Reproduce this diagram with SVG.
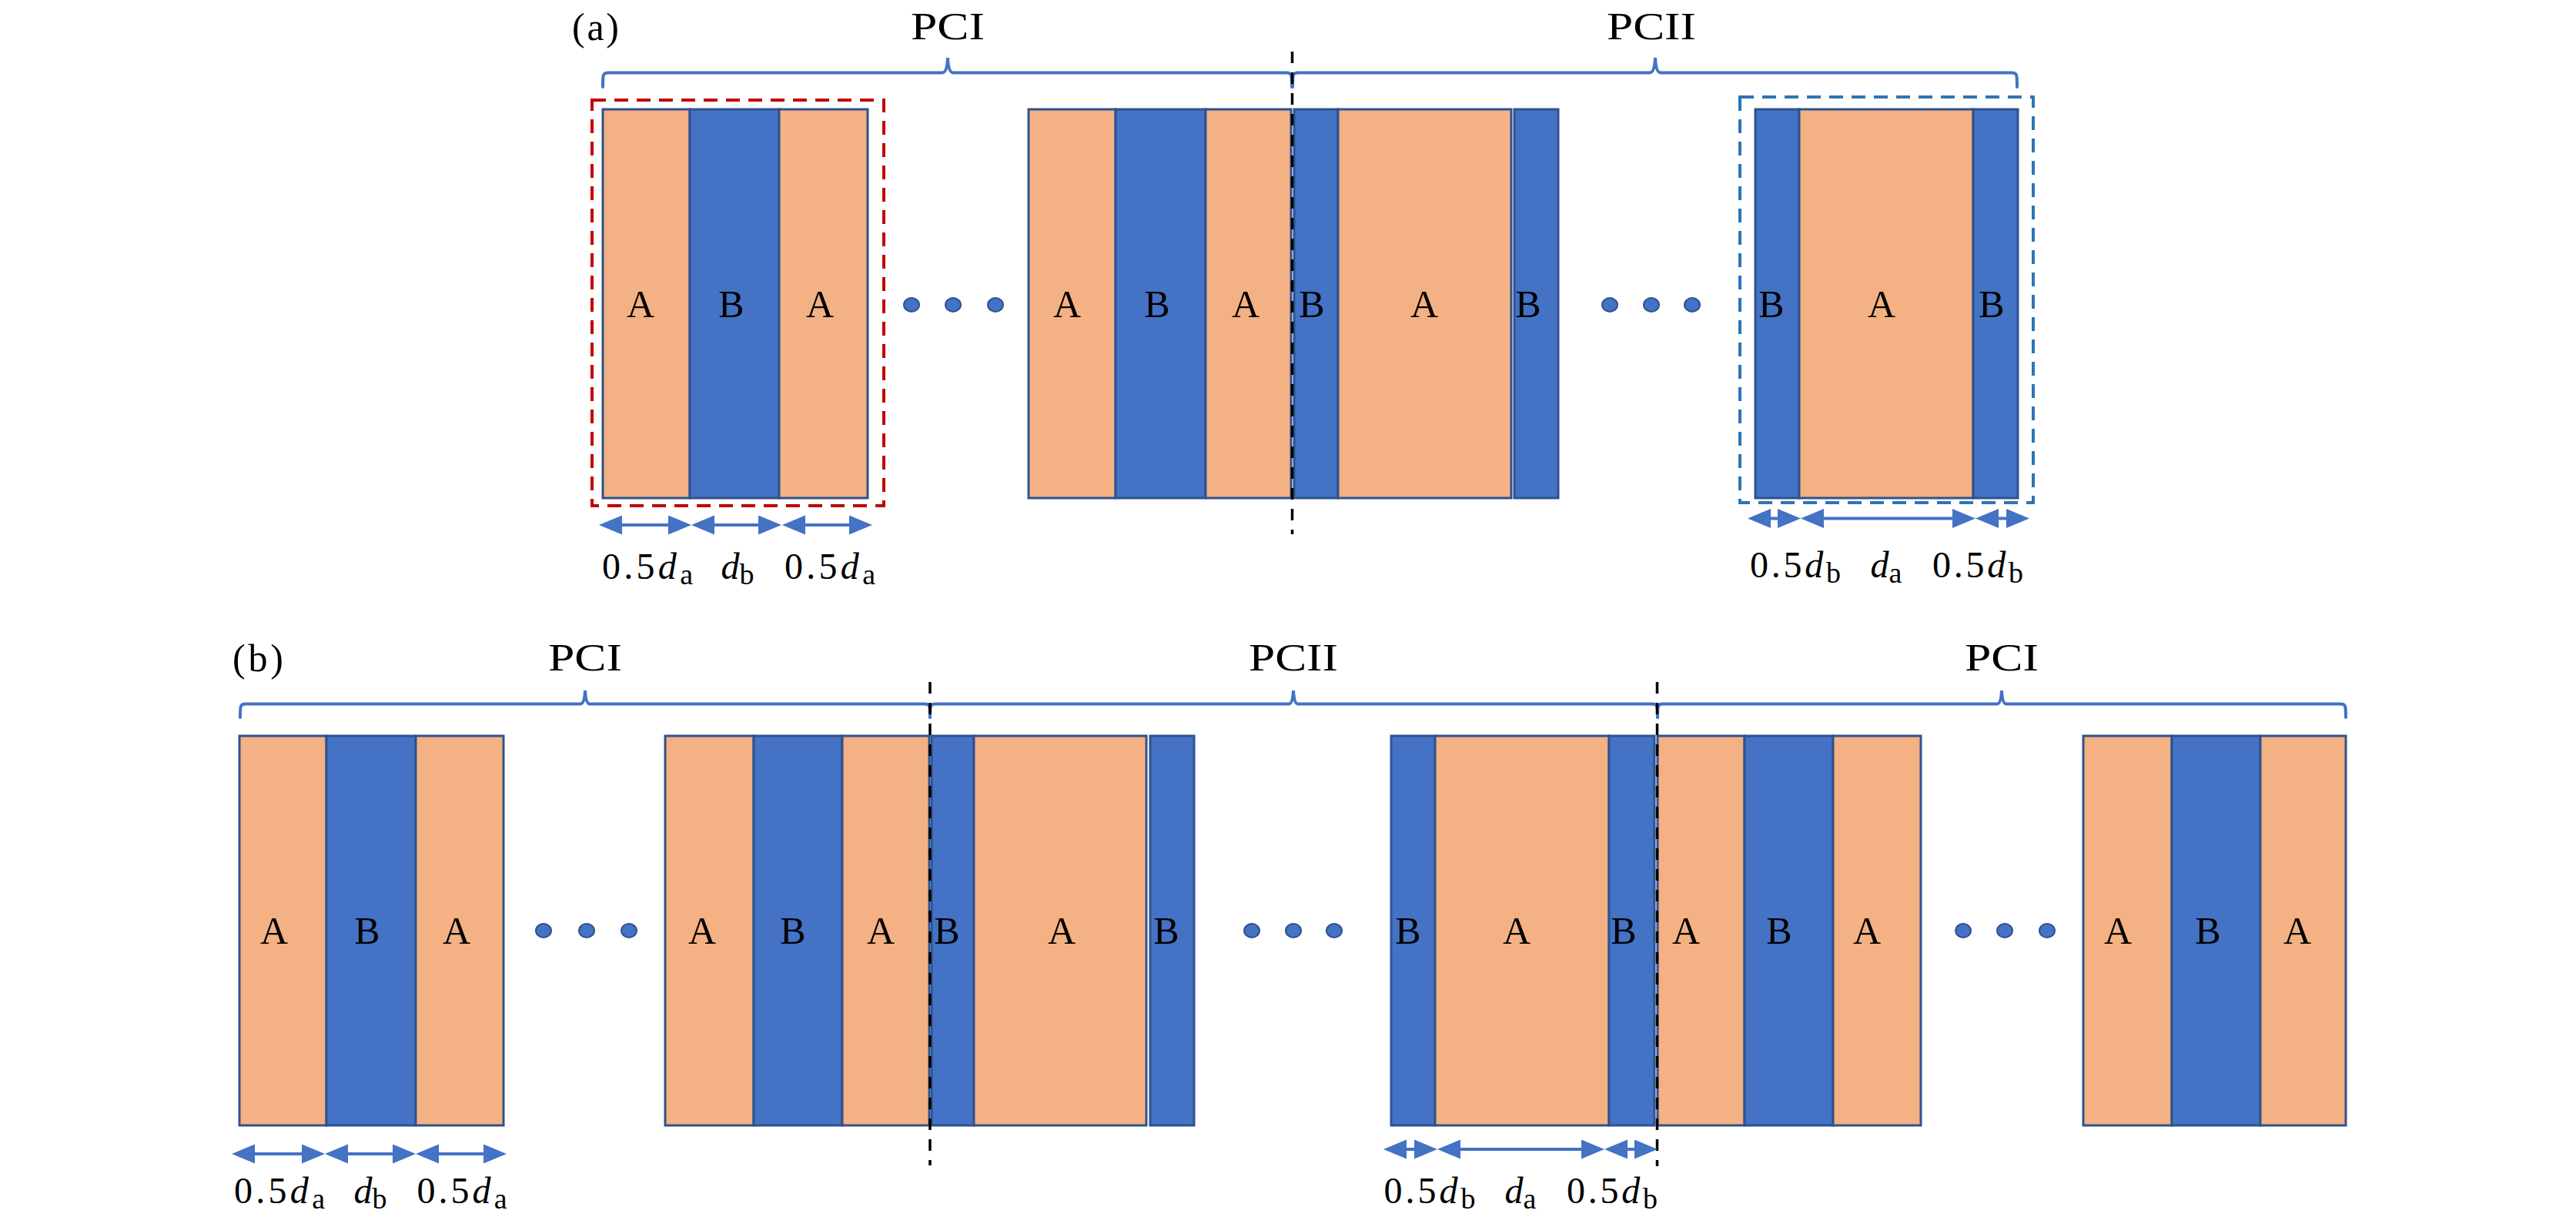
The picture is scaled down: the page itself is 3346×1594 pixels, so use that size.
<svg xmlns="http://www.w3.org/2000/svg" width="3346" height="1594" viewBox="0 0 3346 1594">
<defs>
<style>
.bg{fill:#ffffff}
.la{fill:#F4B183;stroke:#2F528F;stroke-width:3}
.lb{fill:#4472C4;stroke:#2F528F;stroke-width:3}
.t{font-family:"Liberation Serif","Times New Roman",serif;font-size:50px;fill:#000;text-anchor:middle}
.tl{font-family:"Liberation Serif","Times New Roman",serif;font-size:50px;fill:#000}
.m{font-family:"Liberation Serif","Times New Roman",serif;font-size:48px;fill:#000;text-anchor:middle}
.it{font-style:italic}
.sub{font-size:38px}
.dot{fill:#4472C4;stroke:#2F528F;stroke-width:2}
.brace{fill:none;stroke:#4472C4;stroke-width:4;stroke-linecap:round}
.cut{fill:none;stroke:#000;stroke-width:3.5;stroke-dasharray:15 12}
.boxr{fill:none;stroke:#C00000;stroke-width:4;stroke-dasharray:18 11}
.boxb{fill:none;stroke:#2E75B6;stroke-width:4;stroke-dasharray:18 11}
.arr{fill:none;stroke:#4472C4;stroke-width:4;marker-start:url(#ah);marker-end:url(#ah)}
</style>
<marker id="ah" markerUnits="userSpaceOnUse" markerWidth="32" markerHeight="26" refX="2" refY="12.5" orient="auto-start-reverse" viewBox="0 0 32 26">
<path d="M0,0 L30,12.5 L0,25 Z" fill="#4472C4"/>
</marker>
</defs>
<rect class="bg" x="0" y="0" width="3346" height="1594"/>

<!-- ===== Panel (a) ===== -->
<text class="tl" x="743" y="52" textLength="61">(a)</text>
<text class="t" x="1231" y="51" textLength="96" lengthAdjust="spacingAndGlyphs">PCI</text>
<text class="t" x="2145" y="51" textLength="116" lengthAdjust="spacingAndGlyphs">PCII</text>

<g id="a-unit-left">
<rect class="la" x="783" y="142" width="113" height="505"/>
<rect class="lb" x="896" y="142" width="116" height="505"/>
<rect class="la" x="1012" y="142" width="115" height="505"/>
<text class="t" x="832" y="412">A</text>
<text class="t" x="950" y="412">B</text>
<text class="t" x="1065" y="412">A</text>
<rect class="boxr" x="769" y="130" width="379" height="527"/>
</g>

<g id="a-dots-1">
<ellipse class="dot" cx="1184" cy="396" rx="10" ry="9"/>
<ellipse class="dot" cx="1238" cy="396" rx="10" ry="9"/>
<ellipse class="dot" cx="1293" cy="396" rx="10" ry="9"/>
</g>

<g id="a-interface">
<rect class="la" x="1336" y="142" width="113" height="505"/>
<rect class="lb" x="1449" y="142" width="117" height="505"/>
<rect class="la" x="1566" y="142" width="111" height="505"/>
<rect class="lb" x="1681" y="142" width="57" height="505"/>
<rect class="la" x="1738" y="142" width="225" height="505"/>
<rect class="lb" x="1967" y="142" width="57" height="505"/>
<text class="t" x="1386" y="412">A</text>
<text class="t" x="1503" y="412">B</text>
<text class="t" x="1618" y="412">A</text>
<text class="t" x="1704" y="412">B</text>
<text class="t" x="1850" y="412">A</text>
<text class="t" x="1985" y="412">B</text>
</g>

<g id="a-dots-2">
<ellipse class="dot" cx="2091" cy="396" rx="10" ry="9"/>
<ellipse class="dot" cx="2145" cy="396" rx="10" ry="9"/>
<ellipse class="dot" cx="2198" cy="396" rx="10" ry="9"/>
</g>

<g id="a-unit-right">
<rect class="lb" x="2280" y="142" width="57" height="505"/>
<rect class="la" x="2337" y="142" width="226" height="505"/>
<rect class="lb" x="2563" y="142" width="58" height="505"/>
<text class="t" x="2301" y="412">B</text>
<text class="t" x="2444" y="412">A</text>
<text class="t" x="2587" y="412">B</text>
<rect class="boxb" x="2260" y="126" width="381" height="527"/>
</g>

<g id="a-dims-left">
<text class="m" x="841" y="752" textLength="118">0.5<tspan class="it">d</tspan><tspan class="sub" dy="7">a</tspan></text>
<text class="m" x="958" y="752"><tspan class="it">d</tspan><tspan class="sub" dy="7">b</tspan></text>
<text class="m" x="1078" y="752" textLength="118">0.5<tspan class="it">d</tspan><tspan class="sub" dy="7">a</tspan></text>
</g>
<g id="a-dims-right">
<text class="m" x="2332" y="750" textLength="118">0.5<tspan class="it">d</tspan><tspan class="sub" dy="7">b</tspan></text>
<text class="m" x="2450" y="750"><tspan class="it">d</tspan><tspan class="sub" dy="7">a</tspan></text>
<text class="m" x="2569" y="750" textLength="118">0.5<tspan class="it">d</tspan><tspan class="sub" dy="7">b</tspan></text>
</g>

<!-- ===== Panel (b) ===== -->
<text class="tl" x="302" y="872" textLength="66">(b)</text>
<text class="t" x="760" y="871" textLength="96" lengthAdjust="spacingAndGlyphs">PCI</text>
<text class="t" x="1680" y="871" textLength="116" lengthAdjust="spacingAndGlyphs">PCII</text>
<text class="t" x="2600" y="871" textLength="96" lengthAdjust="spacingAndGlyphs">PCI</text>

<g id="b-unit-1">
<rect class="la" x="311" y="956" width="113" height="506"/>
<rect class="lb" x="424" y="956" width="116" height="506"/>
<rect class="la" x="540" y="956" width="114" height="506"/>
<text class="t" x="356" y="1226">A</text>
<text class="t" x="477" y="1226">B</text>
<text class="t" x="593" y="1226">A</text>
</g>

<g id="b-dots-1">
<ellipse class="dot" cx="706" cy="1209" rx="10" ry="9"/>
<ellipse class="dot" cx="762" cy="1209" rx="10" ry="9"/>
<ellipse class="dot" cx="817" cy="1209" rx="10" ry="9"/>
</g>

<g id="b-interface-1">
<rect class="la" x="864" y="956" width="115" height="506"/>
<rect class="lb" x="979" y="956" width="115" height="506"/>
<rect class="la" x="1094" y="956" width="113" height="506"/>
<rect class="lb" x="1210" y="956" width="55" height="506"/>
<rect class="la" x="1265" y="956" width="224" height="506"/>
<rect class="lb" x="1494" y="956" width="57" height="506"/>
<text class="t" x="912" y="1226">A</text>
<text class="t" x="1030" y="1226">B</text>
<text class="t" x="1144" y="1226">A</text>
<text class="t" x="1230" y="1226">B</text>
<text class="t" x="1379" y="1226">A</text>
<text class="t" x="1515" y="1226">B</text>
</g>

<g id="b-dots-2">
<ellipse class="dot" cx="1626" cy="1209" rx="10" ry="9"/>
<ellipse class="dot" cx="1680" cy="1209" rx="10" ry="9"/>
<ellipse class="dot" cx="1733" cy="1209" rx="10" ry="9"/>
</g>

<g id="b-interface-2">
<rect class="lb" x="1807" y="956" width="57" height="506"/>
<rect class="la" x="1864" y="956" width="226" height="506"/>
<rect class="lb" x="2090" y="956" width="59" height="506"/>
<rect class="la" x="2153" y="956" width="113" height="506"/>
<rect class="lb" x="2266" y="956" width="115" height="506"/>
<rect class="la" x="2381" y="956" width="114" height="506"/>
<text class="t" x="1829" y="1226">B</text>
<text class="t" x="1970" y="1226">A</text>
<text class="t" x="2109" y="1226">B</text>
<text class="t" x="2190" y="1226">A</text>
<text class="t" x="2311" y="1226">B</text>
<text class="t" x="2425" y="1226">A</text>
</g>

<g id="b-dots-3">
<ellipse class="dot" cx="2550" cy="1209" rx="10" ry="9"/>
<ellipse class="dot" cx="2604" cy="1209" rx="10" ry="9"/>
<ellipse class="dot" cx="2659" cy="1209" rx="10" ry="9"/>
</g>

<g id="b-unit-4">
<rect class="la" x="2706" y="956" width="115" height="506"/>
<rect class="lb" x="2821" y="956" width="115" height="506"/>
<rect class="la" x="2936" y="956" width="111" height="506"/>
<text class="t" x="2751" y="1226">A</text>
<text class="t" x="2868" y="1226">B</text>
<text class="t" x="2984" y="1226">A</text>
</g>

<g id="b-dims-left">
<text class="m" x="363" y="1563" textLength="118">0.5<tspan class="it">d</tspan><tspan class="sub" dy="7">a</tspan></text>
<text class="m" x="481" y="1563"><tspan class="it">d</tspan><tspan class="sub" dy="7">b</tspan></text>
<text class="m" x="600" y="1563" textLength="117">0.5<tspan class="it">d</tspan><tspan class="sub" dy="7">a</tspan></text>
</g>
<g id="b-dims-right">
<text class="m" x="1857" y="1563" textLength="119">0.5<tspan class="it">d</tspan><tspan class="sub" dy="7">b</tspan></text>
<text class="m" x="1975" y="1563"><tspan class="it">d</tspan><tspan class="sub" dy="7">a</tspan></text>
<text class="m" x="2094" y="1563" textLength="118">0.5<tspan class="it">d</tspan><tspan class="sub" dy="7">b</tspan></text>
</g>

<!-- ===== Connectors: braces, interface lines, dimension arrows ===== -->
<g id="connectors">
<path class="brace" d="M783,113 C783,97 783,94.5 790,94.5 L1224,94.5 Q1230,94.5 1231,75 Q1232,94.5 1238,94.5 L1671,94.5 C1678,94.5 1678,97 1678,113"/>
<path class="brace" d="M1679,113 C1679,97 1679,94.5 1686,94.5 L2143,94.5 Q2149,94.5 2150,75 Q2151,94.5 2157,94.5 L2613,94.5 C2620,94.5 2620,97 2620,113"/>
<path class="brace" d="M312,932 C312,917 312,914.5 319,914.5 L754,914.5 Q759,914.5 760,897 Q761,914.5 766,914.5 L1201,914.5 C1208,914.5 1208,917 1208,932"/>
<path class="brace" d="M1208,932 C1208,917 1208,914.5 1215,914.5 L1674,914.5 Q1679,914.5 1680,897 Q1681,914.5 1686,914.5 L2146,914.5 C2153,914.5 2153,917 2153,932"/>
<path class="brace" d="M2153,932 C2153,917 2153,914.5 2160,914.5 L2594,914.5 Q2599,914.5 2600,897 Q2601,914.5 2606,914.5 L3040,914.5 C3047,914.5 3047,917 3047,932"/>

<line class="cut" x1="1678.5" y1="67" x2="1678.5" y2="694"/>
<line class="cut" x1="1208" y1="886" x2="1208" y2="1514"/>
<line class="cut" x1="2152.5" y1="886" x2="2152.5" y2="1515"/>

<line class="arr" x1="806" y1="682" x2="870" y2="682"/>
<line class="arr" x1="926" y1="682" x2="987" y2="682"/>
<line class="arr" x1="1044" y1="682" x2="1105" y2="682"/>

<line class="arr" x1="2298" y1="673.5" x2="2311" y2="673.5"/>
<line class="arr" x1="2367" y1="673.5" x2="2538" y2="673.5"/>
<line class="arr" x1="2594" y1="673.5" x2="2608" y2="673.5"/>

<line class="arr" x1="329" y1="1499" x2="394" y2="1499"/>
<line class="arr" x1="450" y1="1499" x2="512" y2="1499"/>
<line class="arr" x1="568" y1="1499" x2="630" y2="1499"/>

<line class="arr" x1="1825" y1="1493" x2="1839" y2="1493"/>
<line class="arr" x1="1895" y1="1493" x2="2056" y2="1493"/>
<line class="arr" x1="2112" y1="1493" x2="2125" y2="1493"/>
</g>
</svg>
